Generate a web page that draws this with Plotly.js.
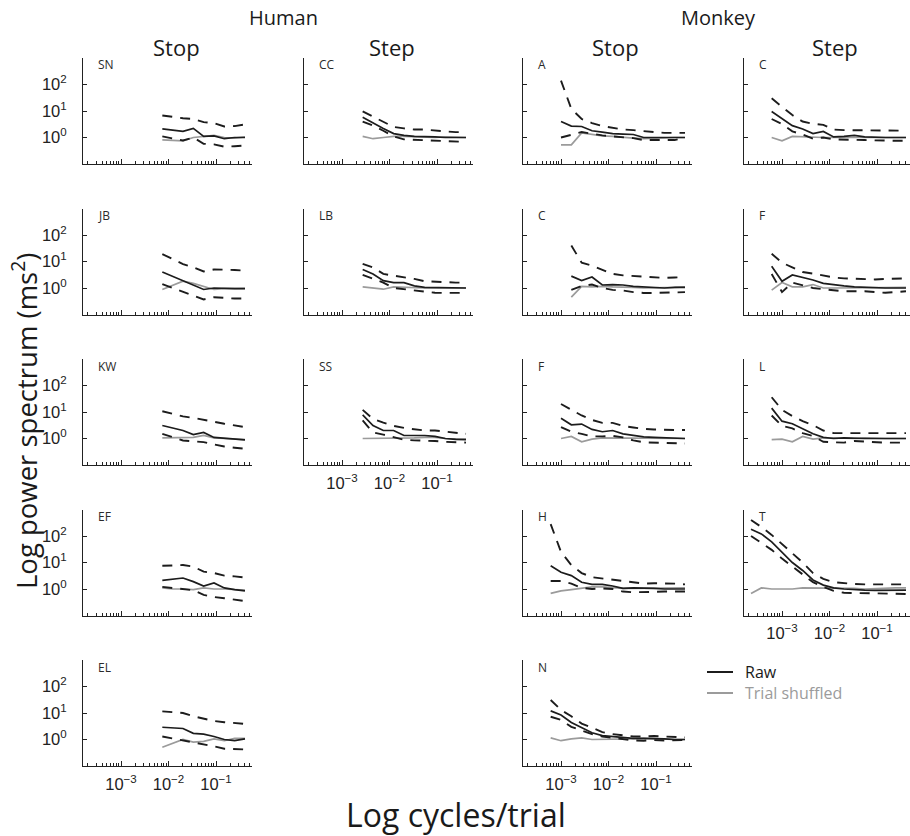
<!DOCTYPE html>
<html>
<head>
<meta charset="utf-8">
<script src="https://cdn.plot.ly/plotly-3.0.1.min.js"></script>
<style>
  html, body { margin: 0; padding: 0; background: #fff; }
  #chart { width: 910px; height: 836px; }
</style>
</head>
<body>
<div id="chart"></div>
<script>
// Frequency grids (cycles/trial), log-binned
const freqT = [0.0002226, 0.0003673, 0.000606, 0.001, 0.00165, 0.002723, 0.004493, 0.007413, 0.01223, 0.02018, 0.0333, 0.05495, 0.09066, 0.1496, 0.2469, 0.4074];
const freqLong = [0.000606, 0.001, 0.00165, 0.002723, 0.004493, 0.007413, 0.01223, 0.02018, 0.0333, 0.05495, 0.09066, 0.1496, 0.2469, 0.4074];
const freqMid = [0.001, 0.00165, 0.002723, 0.004493, 0.007413, 0.01223, 0.02018, 0.0333, 0.05495, 0.09066, 0.1496, 0.2469, 0.4074];
const freqShort = [0.00165, 0.002723, 0.004493, 0.007413, 0.01223, 0.02018, 0.0333, 0.05495, 0.09066, 0.1496, 0.2469, 0.4074];
const freqHumanStep = [0.002723, 0.004493, 0.007413, 0.01223, 0.02018, 0.0333, 0.05495, 0.09066, 0.1496, 0.2469, 0.4074];
const freqHumanStop = [0.007413, 0.01223, 0.02018, 0.0333, 0.05495, 0.09066, 0.1496, 0.2469, 0.4074];

// Human, stop task
const SN_raw = [2.1, 1.9, 1.7, 2.2, 1.1, 1.15, 0.9, 1.0, 1.0];
const SN_hi = [6.8, 6.0, 5.3, 5.0, 3.8, 3.5, 2.6, 2.7, 3.1];
const SN_lo = [1.1, 0.9, 0.77, 1.0, 0.58, 0.55, 0.45, 0.47, 0.5];
const SN_shuf = [0.81, 0.78, 0.75, 1.0, 1.1, 1.2, 1.0, 0.95, 1.05];

const JB_raw = [4.0, 2.7, 1.8, 1.3, 0.88, 1.0, 0.95, 0.95, 0.95];
const JB_hi = [19, 12, 8, 6, 4.2, 5, 5, 4.8, 4.5];
const JB_lo = [1.4, 1.0, 0.7, 0.5, 0.37, 0.45, 0.42, 0.4, 0.4];
const JB_shuf = [0.88, 1.3, 1.8, 1.5, 1.17, 0.88, 0.95, 0.95, 0.97];

const KW_raw = [3.1, 2.5, 2.0, 1.4, 1.7, 1.1, 1.0, 0.95, 0.88];
const KW_hi = [10.7, 8.5, 6.8, 6.0, 5.2, 4.3, 3.6, 3.2, 2.7];
const KW_lo = [1.5, 1.1, 0.84, 0.78, 0.73, 0.6, 0.5, 0.45, 0.41];
const KW_shuf = [1.05, 1.05, 1.05, 1.1, 1.3, 1.05, 1.0, 0.95, 0.9];

const EF_raw = [2.1, 2.4, 2.6, 1.9, 1.3, 1.7, 1.1, 0.95, 0.85];
const EF_hi = [7.5, 7.8, 8.0, 7.0, 4.5, 4.0, 3.2, 3.0, 2.7];
const EF_lo = [1.2, 1.1, 1.0, 0.9, 0.6, 0.5, 0.45, 0.4, 0.35];
const EF_shuf = [1.1, 1.0, 1.0, 0.95, 1.1, 1.0, 1.0, 0.95, 0.9];

const EL_raw = [2.9, 2.75, 2.6, 1.7, 1.6, 1.3, 1.0, 0.9, 1.05];
const EL_hi = [11.5, 10.8, 10, 7.5, 6.0, 5.0, 4.5, 4.2, 3.9];
const EL_lo = [1.3, 1.1, 0.92, 0.8, 0.69, 0.55, 0.45, 0.43, 0.42];
const EL_shuf = [0.51, 0.7, 1.0, 0.8, 0.85, 1.05, 0.9, 1.1, 1.1];

// Human, step task
const CC_raw = [5.8, 3.5, 2.2, 1.4, 1.2, 1.1, 1.1, 1.05, 1.0, 1.0, 1.0];
const CC_hi = [9.6, 6.0, 4.0, 2.5, 2.2, 2.0, 2.0, 1.9, 1.7, 1.6, 1.6];
const CC_lo = [4.0, 2.8, 1.8, 1.1, 0.85, 0.82, 0.8, 0.8, 0.77, 0.72, 0.68];
const CC_shuf = [1.1, 0.9, 1.0, 1.1, 1.1, 1.05, 1.05, 1.0, 1.05, 1.0, 1.0];

const LB_raw = [5.0, 3.4, 1.9, 1.6, 1.6, 1.2, 1.05, 1.05, 1.0, 1.0, 1.0];
const LB_hi = [8.2, 6.0, 3.4, 3.0, 2.6, 2.2, 1.8, 1.7, 1.6, 1.6, 1.6];
const LB_lo = [3.1, 2.2, 1.6, 1.0, 0.9, 0.8, 0.7, 0.66, 0.65, 0.66, 0.66];
const LB_shuf = [1.1, 1.0, 0.9, 1.1, 1.05, 1.05, 1.0, 1.0, 1.0, 1.0, 1.0];

const SS_raw = [7.8, 3.1, 2.0, 2.0, 1.3, 1.3, 1.3, 1.2, 1.0, 0.93, 0.9];
const SS_hi = [12, 5.5, 4.0, 3.0, 2.5, 2.2, 2.0, 2.0, 1.8, 1.6, 1.5];
const SS_lo = [4.8, 1.7, 1.4, 1.1, 0.9, 0.85, 0.85, 0.8, 0.75, 0.72, 0.7];
const SS_shuf = [1.0, 1.0, 1.0, 1.05, 1.05, 1.05, 1.1, 1.1, 1.0, 0.95, 0.95];

// Monkey, stop task
const mA_raw = [4.0, 2.7, 2.6, 1.8, 1.6, 1.4, 1.35, 1.3, 1.0, 1.0, 1.0, 1.0, 1.0];
const mA_hi = [140, 12, 5.0, 3.5, 2.7, 2.3, 2.0, 1.9, 1.7, 1.6, 1.5, 1.5, 1.5];
const mA_lo = [1.0, 1.3, 1.6, 1.4, 1.2, 1.1, 1.0, 0.95, 0.8, 0.8, 0.8, 0.8, 1.0];
const mA_shuf = [0.53, 0.53, 1.5, 1.3, 1.15, 1.1, 1.0, 0.95, 0.9, 0.95, 1.0, 1.0, 1.0];

const mC_raw = [2.8, 1.9, 2.6, 1.3, 1.35, 1.3, 1.15, 1.1, 1.05, 1.0, 1.05, 1.05];
const mC_hi = [40, 9, 7, 5, 3.4, 3.0, 2.8, 2.6, 2.5, 2.4, 2.5, 2.6];
const mC_lo = [0.85, 1.2, 1.35, 1.0, 0.85, 0.8, 0.7, 0.65, 0.65, 0.65, 0.68, 0.7];
const mC_shuf = [0.45, 1.15, 1.1, 1.15, 1.1, 1.1, 1.05, 1.0, 1.0, 1.0, 1.05, 1.1];

const mF_raw = [5.8, 3.3, 3.5, 2.2, 1.8, 2.0, 1.5, 1.3, 1.15, 1.1, 1.05, 1.0, 1.0];
const mF_hi = [20, 12, 7.4, 5.0, 3.9, 3.9, 3.0, 2.6, 2.3, 2.2, 2.1, 2.1, 2.1];
const mF_lo = [2.7, 1.8, 1.5, 1.2, 1.2, 1.25, 1.1, 0.85, 0.72, 0.7, 0.68, 0.65, 0.65];
const mF_shuf = [1.0, 1.2, 0.75, 0.95, 1.05, 1.05, 1.05, 1.0, 1.0, 1.0, 1.0, 1.0, 1.0];

const mH_raw = [7.6, 4.3, 3.2, 1.8, 1.5, 1.5, 1.3, 1.05, 1.1, 1.1, 1.05, 1.0, 1.0, 1.0];
const mH_hi = [280, 25, 8, 4, 2.8, 2.5, 2.2, 2.0, 1.7, 1.6, 1.65, 1.65, 1.6, 1.5];
const mH_lo = [2.0, 2.0, 1.6, 1.1, 1.0, 1.05, 1.0, 0.8, 0.75, 0.78, 0.8, 0.8, 0.8, 0.8];
const mH_shuf = [0.68, 0.85, 0.95, 1.1, 1.2, 1.2, 1.1, 1.05, 1.05, 1.05, 1.05, 1.05, 1.05, 1.1];

const mN_raw = [12, 8.4, 4.4, 2.8, 1.8, 1.4, 1.3, 1.15, 1.1, 1.1, 1.1, 1.05, 1.0, 1.0];
const mN_hi = [31, 13, 7.5, 4.0, 2.8, 1.9, 1.6, 1.4, 1.3, 1.3, 1.35, 1.3, 1.25, 1.2];
const mN_lo = [7.2, 5.5, 3.0, 2.2, 1.6, 1.3, 1.15, 1.05, 0.92, 0.9, 0.95, 0.92, 0.93, 0.95];
const mN_shuf = [1.15, 0.9, 1.05, 1.15, 1.0, 1.0, 1.0, 1.0, 1.05, 1.1, 1.05, 1.0, 1.0, 1.0];

// Monkey, step task
const sC_raw = [9.6, 5.0, 2.8, 2.1, 1.4, 1.7, 1.05, 1.1, 1.2, 1.05, 1.0, 1.0, 1.0, 1.0];
const sC_hi = [30, 15, 7, 4, 3.3, 3.0, 2.0, 1.9, 1.9, 1.8, 1.8, 1.8, 1.8, 1.8];
const sC_lo = [5.0, 3.2, 1.7, 1.3, 0.9, 1.0, 0.85, 0.85, 0.85, 0.8, 0.78, 0.75, 0.75, 0.75];
const sC_shuf = [1.0, 0.75, 1.1, 1.05, 1.0, 1.0, 1.0, 1.0, 1.05, 1.0, 1.05, 1.0, 1.0, 1.0];

const sF_raw = [6.6, 1.8, 3.1, 2.5, 2.0, 1.5, 1.3, 1.2, 1.1, 1.05, 1.05, 1.0, 1.0, 1.0];
const sF_hi = [19.5, 9, 6, 4, 3.5, 3.0, 2.5, 2.3, 2.2, 2.1, 2.1, 2.2, 2.3, 2.3];
const sF_lo = [3.4, 0.7, 1.6, 1.3, 1.0, 0.9, 0.8, 0.75, 0.75, 0.75, 0.7, 0.66, 0.7, 0.75];
const sF_shuf = [0.83, 1.6, 1.1, 1.1, 1.35, 1.0, 1.0, 1.0, 1.05, 1.0, 1.0, 1.05, 1.0, 1.05];

const sL_raw = [14, 4.5, 3.6, 2.4, 1.5, 1.1, 1.0, 1.05, 1.0, 1.0, 1.0, 1.0, 1.0, 1.0];
const sL_hi = [36, 12, 7, 4.5, 3.2, 2.0, 1.6, 1.6, 1.6, 1.6, 1.6, 1.6, 1.6, 1.6];
const sL_lo = [7.4, 3.0, 2.4, 1.6, 1.25, 0.75, 0.72, 0.7, 0.8, 0.75, 0.7, 0.7, 0.7, 0.7];
const sL_shuf = [0.9, 0.95, 0.75, 1.2, 0.95, 1.05, 1.05, 1.0, 1.0, 1.05, 1.0, 1.0, 1.0, 1.0];

const sT_raw = [180, 120, 60, 25, 10, 5, 2.2, 1.4, 1.1, 1.0, 0.92, 0.9, 0.88, 0.9, 0.9, 0.9];
const sT_hi = [400, 220, 110, 50, 22, 10, 4, 2.4, 1.8, 1.65, 1.55, 1.5, 1.5, 1.5, 1.5, 1.5];
const sT_lo = [100, 55, 30, 14, 7, 3.5, 1.8, 1.2, 0.85, 0.72, 0.7, 0.7, 0.7, 0.68, 0.66, 0.65];
const sT_shuf = [0.68, 1.1, 1.0, 1.0, 1.0, 1.1, 1.1, 1.05, 1.1, 1.05, 1.05, 1.0, 1.05, 1.05, 1.1, 1.1];

// Axis tick labels
const xTickVals = [0.001, 0.01, 0.1];
const xTickText = ['10<sup>\u22123</sup>', '10<sup>\u22122</sup>', '10<sup>\u22121</sup>'];
const yTickVals = [1, 10, 100];
const yTickText = ['10<sup>0</sup>', '10<sup>1</sup>', '10<sup>2</sup>'];
const xMinorVals = [];
[1e-4, 1e-3, 1e-2, 1e-1].forEach(d => { for (let k = 2; k <= 9; k++) xMinorVals.push(k * d); });

// Panel arrangement: column, row, label, data, whether x tick labels show
const panels = [
  {label: 'SN', col: 0, row: 0, f: freqHumanStop, raw: SN_raw, hi: SN_hi, lo: SN_lo, shuf: SN_shuf},
  {label: 'JB', col: 0, row: 1, f: freqHumanStop, raw: JB_raw, hi: JB_hi, lo: JB_lo, shuf: JB_shuf},
  {label: 'KW', col: 0, row: 2, f: freqHumanStop, raw: KW_raw, hi: KW_hi, lo: KW_lo, shuf: KW_shuf},
  {label: 'EF', col: 0, row: 3, f: freqHumanStop, raw: EF_raw, hi: EF_hi, lo: EF_lo, shuf: EF_shuf},
  {label: 'EL', col: 0, row: 4, f: freqHumanStop, raw: EL_raw, hi: EL_hi, lo: EL_lo, shuf: EL_shuf, xl: true},
  {label: 'CC', col: 1, row: 0, f: freqHumanStep, raw: CC_raw, hi: CC_hi, lo: CC_lo, shuf: CC_shuf},
  {label: 'LB', col: 1, row: 1, f: freqHumanStep, raw: LB_raw, hi: LB_hi, lo: LB_lo, shuf: LB_shuf},
  {label: 'SS', col: 1, row: 2, f: freqHumanStep, raw: SS_raw, hi: SS_hi, lo: SS_lo, shuf: SS_shuf, xl: true},
  {label: 'A', col: 2, row: 0, f: freqMid, raw: mA_raw, hi: mA_hi, lo: mA_lo, shuf: mA_shuf},
  {label: 'C', col: 2, row: 1, f: freqShort, raw: mC_raw, hi: mC_hi, lo: mC_lo, shuf: mC_shuf},
  {label: 'F', col: 2, row: 2, f: freqMid, raw: mF_raw, hi: mF_hi, lo: mF_lo, shuf: mF_shuf},
  {label: 'H', col: 2, row: 3, f: freqLong, raw: mH_raw, hi: mH_hi, lo: mH_lo, shuf: mH_shuf},
  {label: 'N', col: 2, row: 4, f: freqLong, raw: mN_raw, hi: mN_hi, lo: mN_lo, shuf: mN_shuf, xl: true},
  {label: 'C', col: 3, row: 0, f: freqLong, raw: sC_raw, hi: sC_hi, lo: sC_lo, shuf: sC_shuf},
  {label: 'F', col: 3, row: 1, f: freqLong, raw: sF_raw, hi: sF_hi, lo: sF_lo, shuf: sF_shuf},
  {label: 'L', col: 3, row: 2, f: freqLong, raw: sL_raw, hi: sL_hi, lo: sL_lo, shuf: sL_shuf},
  {label: 'T', col: 3, row: 3, f: freqT, raw: sT_raw, hi: sT_hi, lo: sT_lo, shuf: sT_shuf, xl: true}
];

const W = 910, H = 836;
const colLeft = [83, 304, 523, 744];
const panelW = 169, pxPerDecade = 47.5, xStart = -3.8;
const rowTop = 58, rowPitch = 150.5, panelH = 106;

const RAW = '#1c1c1c', SHUF = '#9b9b9b';
const FONT = '"Open Sans", "Noto Sans", sans-serif';
const TICKFONT = {family: '"Liberation Sans", Arial, sans-serif', size: 16.5, color: '#222'};

const traces = [];
const layout = {
  width: W, height: H,
  margin: {l: 0, r: 0, t: 0, b: 0},
  paper_bgcolor: '#fff', plot_bgcolor: 'rgba(0,0,0,0)',
  showlegend: false,
  annotations: [], shapes: []
};

panels.forEach((p, i) => {
  const n = i + 1;
  const xa = 'x' + n, ya = 'y' + n;
  const left = colLeft[p.col];
  const right = Math.min(left + panelW, W);
  const top = rowTop + rowPitch * p.row, bottom = top + panelH;

  layout['xaxis' + n] = {
    type: 'log', anchor: ya,
    domain: [left / W, right / W],
    range: [xStart, xStart + (right - left) / pxPerDecade],
    showline: true, linecolor: '#222', linewidth: 1,
    showgrid: false, zeroline: false,
    ticks: 'inside', ticklen: 5, tickwidth: 1, tickcolor: '#222',
    tickmode: 'array', tickvals: xTickVals, ticktext: xTickText,
    showticklabels: !!p.xl, tickfont: TICKFONT, ticklabelstandoff: 3,
    minor: {ticks: 'inside', ticklen: 3, tickwidth: 1, tickcolor: '#222', tickmode: 'array', tickvals: xMinorVals, showgrid: false}
  };
  layout['yaxis' + n] = {
    type: 'log', anchor: xa,
    domain: [1 - bottom / H, 1 - top / H],
    range: [-1, 3],
    showline: true, linecolor: '#222', linewidth: 1,
    showgrid: false, zeroline: false,
    ticks: 'inside', ticklen: 4, tickwidth: 1, tickcolor: '#222',
    tickmode: 'array', tickvals: yTickVals, ticktext: yTickText,
    showticklabels: p.col === 0, tickfont: TICKFONT, ticklabelstandoff: 12
  };

  const common = {xaxis: xa, yaxis: ya, mode: 'lines', hoverinfo: 'skip', showlegend: false};
  traces.push(Object.assign({x: p.f, y: p.shuf, line: {color: SHUF, width: 1.7}}, common));
  traces.push(Object.assign({x: p.f, y: p.hi, line: {color: RAW, width: 1.9, dash: '10px,8px'}}, common));
  traces.push(Object.assign({x: p.f, y: p.lo, line: {color: RAW, width: 1.9, dash: '10px,8px'}}, common));
  traces.push(Object.assign({x: p.f, y: p.raw, line: {color: RAW, width: 1.7}}, common));

  // subject / animal label in the top-left corner of each panel
  layout.annotations.push({
    text: p.label, xref: xa + ' domain', yref: ya + ' domain',
    x: 13 / panelW, y: (panelH - 7) / panelH,
    xanchor: 'left', yanchor: 'middle', showarrow: false,
    font: {family: FONT, size: 12, color: '#2a2a2a'}
  });
});

// Group and task headings
const heading = (text, xPx, yPx, size) => layout.annotations.push({
  text, xref: 'paper', yref: 'paper', x: xPx / W, y: 1 - yPx / H,
  xanchor: 'center', yanchor: 'middle', showarrow: false,
  font: {family: FONT, size, color: '#1a1a1a'}
});
heading('Human', 283, 17, 20);
heading('Monkey', 718, 17, 20);
heading('Stop', 176, 47, 22);
heading('Step', 392, 47, 22);
heading('Stop', 615, 47, 22);
heading('Step', 835, 47, 22);

// Axis titles shared by all panels
layout.annotations.push({
  text: 'Log power spectrum (ms<sup>2</sup>)', xref: 'paper', yref: 'paper',
  x: 24 / W, y: 1 - 421 / H, textangle: -90, xanchor: 'center', yanchor: 'middle',
  showarrow: false, font: {family: FONT, size: 27.5, color: '#1a1a1a'}
});
layout.annotations.push({
  text: 'Log cycles/trial', xref: 'paper', yref: 'paper',
  x: 456 / W, y: 1 - 814 / H, xanchor: 'center', yanchor: 'middle',
  showarrow: false, font: {family: FONT, size: 32, color: '#1a1a1a'}
});

// Key
layout.shapes.push({type: 'line', xref: 'paper', yref: 'paper', x0: 707 / W, x1: 733 / W, y0: 1 - 672 / H, y1: 1 - 672 / H, line: {color: RAW, width: 2}});
layout.shapes.push({type: 'line', xref: 'paper', yref: 'paper', x0: 707 / W, x1: 733 / W, y0: 1 - 693 / H, y1: 1 - 693 / H, line: {color: SHUF, width: 2}});
layout.annotations.push({text: 'Raw', xref: 'paper', yref: 'paper', x: 743 / W, y: 1 - 672 / H, xanchor: 'left', yanchor: 'middle', showarrow: false, font: {family: FONT, size: 16, color: '#1a1a1a'}});
layout.annotations.push({text: 'Trial shuffled', xref: 'paper', yref: 'paper', x: 743 / W, y: 1 - 693 / H, xanchor: 'left', yanchor: 'middle', showarrow: false, font: {family: FONT, size: 16, color: '#9b9b9b'}});

Plotly.newPlot('chart', traces, layout, {staticPlot: true, displayModeBar: false});
</script>
</body>
</html>
